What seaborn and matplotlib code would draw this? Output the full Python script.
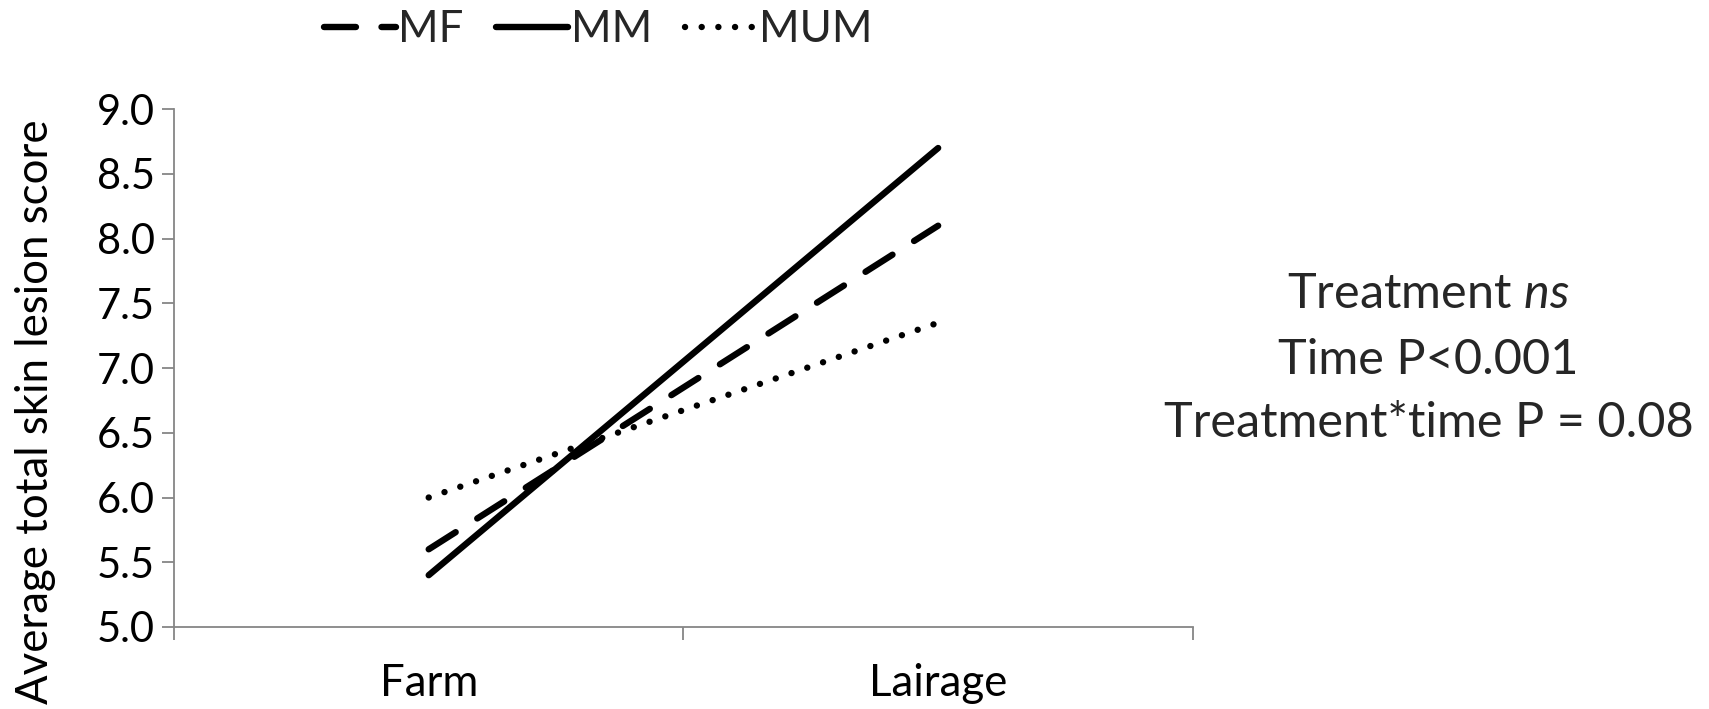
import pandas as pd
import seaborn as sns
import matplotlib.pyplot as plt
from matplotlib.ticker import FixedLocator, NullFormatter, FixedFormatter

# values
times = ['Farm', 'Lairage']
mf = [5.6, 8.1]
mm = [5.4, 8.7]
mum = [6.0, 7.35]
groups = ['MF', 'MM', 'MUM']
y_ticks = [5.0, 5.5, 6.0, 6.5, 7.0, 7.5, 8.0, 8.5, 9.0]

df = pd.DataFrame({
    'Time': times * 3,
    'Score': mf + mm + mum,
    'Group': [g for g in groups for _ in times],
})

sns.set_theme(style='white')
plt.rcParams['font.family'] = ['Lato', 'DejaVu Sans']
plt.rcParams['mathtext.fontset'] = 'custom'
plt.rcParams['mathtext.it'] = 'Lato:italic'
plt.rcParams['mathtext.rm'] = 'Lato'

FS = 31.5
FS_TICK = 30
FS_NOTE = 35
AXC = '#868686'
LW = 4.6

fig = plt.figure(figsize=(17.09, 7.09), dpi=100)
ax = fig.add_axes([0.1018, 0.1157, 0.5962, 0.7303])

dashes = {'MF': (5.0, 4.0), 'MM': '', 'MUM': (0.01, 2.6)}
sns.lineplot(data=df, x='Time', y='Score', style='Group', style_order=groups,
             dashes=dashes, color='black', linewidth=LW, ax=ax, legend='brief',
             sort=False)

for ln in ax.lines:
    ln.set_dash_capstyle('round')
    ln.set_solid_capstyle('round')

ax.set_ylim(5.0, 9.0)
ax.set_xlim(-0.5, 1.5)
ax.set_yticks(y_ticks)
ax.set_yticklabels([f'{v:.1f}' for v in y_ticks])
ax.xaxis.set_major_locator(FixedLocator([-0.5, 0.5, 1.5]))
ax.xaxis.set_major_formatter(NullFormatter())
ax.xaxis.set_minor_locator(FixedLocator([0, 1]))
ax.xaxis.set_minor_formatter(FixedFormatter(times))
ax.tick_params(axis='x', which='minor', length=0, pad=26, labelsize=FS, labelcolor='black')
ax.tick_params(axis='x', which='major', length=9, width=1.3, color=AXC, direction='out', bottom=True)
ax.tick_params(axis='y', length=9, width=1.3, color=AXC, direction='out', left=True,
               labelsize=FS_TICK, labelcolor='black', pad=5)

for side in ['top', 'right']:
    ax.spines[side].set_visible(False)
for side in ['left', 'bottom']:
    ax.spines[side].set_color(AXC)
    ax.spines[side].set_linewidth(1.3)

ax.set_xlabel('')
ax.set_ylabel('Average total skin lesion score', fontsize=FS, color='black', va='center')
ax.yaxis.set_label_coords(-0.136, 0.415)

handles, labels = ax.get_legend_handles_labels()
ax.get_legend().remove()
for h in handles:
    h.set_dash_capstyle('round')
    h.set_solid_capstyle('round')
    h.set_color('black')
    h.set_linewidth(LW)
fig.legend(handles, labels, loc='center', bbox_to_anchor=(0.35, 0.958), ncol=3,
           frameon=False, fontsize=FS, handlelength=1.65, handletextpad=0.05,
           columnspacing=0.75)

fig.text(0.836, 0.585, 'Treatment $\\mathit{ns}$', ha='center', va='center', fontsize=FS_NOTE)
fig.text(0.836, 0.492, 'Time P<0.001', ha='center', va='center', fontsize=FS_NOTE)
fig.text(0.836, 0.403, 'Treatment*time P = 0.08', ha='center', va='center', fontsize=FS_NOTE)

fig.savefig('out.png', dpi=100)
